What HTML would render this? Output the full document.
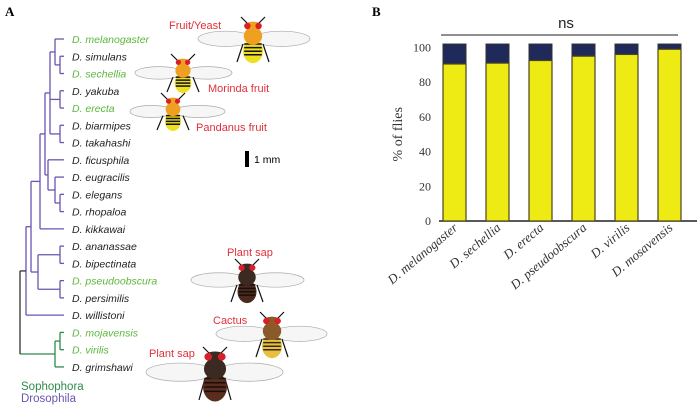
<!DOCTYPE html>
<html><head><meta charset="utf-8">
<style>
html,body{margin:0;padding:0;background:#fff;}
svg{display:block;}
.sp{font-family:"Liberation Sans",sans-serif;font-size:10.5px;font-style:italic;}
.lab{font-family:"Liberation Sans",sans-serif;font-size:11px;fill:#e0303a;}
.ser{font-family:"Liberation Serif",serif;}
</style></head>
<body>
<svg id="fig" width="697" height="415" viewBox="0 0 697 415">
<text x="5" y="16" class="ser" font-weight="bold" font-size="13">A</text>
<text x="372" y="16" class="ser" font-weight="bold" font-size="13">B</text>
<g id="tree"></g>
<g id="flies"></g>
<g>
<rect x="245" y="151" width="4" height="16" fill="#000"/>
<text x="254" y="163" font-family="Liberation Sans" font-size="10.5">1 mm</text>
</g>
<text x="21" y="390" font-family="Liberation Sans" font-size="11.5" fill="#2e8b4a">Sophophora</text>
<text x="21" y="402" font-family="Liberation Sans" font-size="11.5" fill="#6a55b0">Drosophila</text>
<g id="chart"></g>
</svg>
<script>
const NS="http://www.w3.org/2000/svg";
function mk(tag,attrs,parent){const e=document.createElementNS(NS,tag);for(const k in attrs)e.setAttribute(k,attrs[k]);parent.appendChild(e);return e;}

// ---------- Chart data ----------
const species=["D. melanogaster","D. sechellia","D. erecta","D. pseudoobscura","D. virilis","D. mosavensis"];
const yellowVals=[90.5,91,92.5,95,96,99];
const totalVals=[102,102,102,102,102,102];
const yTicks=[0,20,40,60,80,100];

const chart=document.getElementById('chart');
const y0=221, yScale=1.735;
function yPos(v){return y0-v*yScale;}
const bx0=443, bstep=43, bw=23;
function xPos(i){return bx0+i*bstep;}

mk('line',{x1:439,y1:y0,x2:697,y2:y0,stroke:'#222','stroke-width':1.5},chart);
yTicks.forEach(t=>{
  const tx=mk('text',{x:431,y:yPos(t)+4,'text-anchor':'end','font-size':12,'font-family':'Liberation Serif',fill:'#333'},chart);
  tx.textContent=t;
  
  
});
const yt=mk('text',{x:0,y:0,transform:'translate(402,'+(yPos(50))+') rotate(-90)','text-anchor':'middle','font-size':14,'font-family':'Liberation Serif',fill:'#333'},chart);
yt.textContent='% of flies';



species.forEach((s,i)=>{
  const x=xPos(i);
  const top=mk('rect',{x:x,y:yPos(totalVals[i]),width:bw,height:yPos(yellowVals[i])-yPos(totalVals[i]),fill:'#1f2a5a',stroke:'#333','stroke-width':1},chart);
  
  
  const yb=mk('rect',{x:x,y:yPos(yellowVals[i]),width:bw,height:yPos(0)-yPos(yellowVals[i]),fill:'#eeea14',stroke:'#4a4420','stroke-width':1.2},chart);
  
  
  const lb=mk('text',{x:0,y:0,transform:'translate('+(x+bw/2+4)+',229) rotate(-40)','text-anchor':'end','font-size':13,'font-style':'italic','font-family':'Liberation Serif',fill:'#333'},chart);
  lb.textContent=s;
  
  
});
const ns=mk('line',{x1:441,y1:35,x2:678,y2:35,stroke:'#222','stroke-width':1},chart);


const nst=mk('text',{x:566,y:28,'text-anchor':'middle','font-size':15,'font-family':'Liberation Sans',fill:'#222'},chart);
nst.textContent='ns';



// ---------- Tree ----------
const tree=document.getElementById('tree');
const leaves=["D. melanogaster","D. simulans","D. sechellia","D. yakuba","D. erecta","D. biarmipes","D. takahashi","D. ficusphila","D. eugracilis","D. elegans","D. rhopaloa","D. kikkawai","D. ananassae","D. bipectinata","D. pseudoobscura","D. persimilis","D. willistoni","D. mojavensis","D. virilis","D. grimshawi"];
const green=new Set(["D. melanogaster","D. sechellia","D. erecta","D. pseudoobscura","D. mojavensis","D. virilis"]);
const rowY=i=>39+i*17.26;
const leafX=64;
leaves.forEach((n,i)=>{
  const t=mk('text',{x:72,y:rowY(i)+4,class:'sp',fill:green.has(n)?'#5cb83c':'#222'},tree);
  t.textContent=n;
  
  
});
function L(i){return {leaf:i};}
function N(x,...c){return {x:x,c:c};}
const P='#6a55b0',G='#2e8b4a';
const soph=N(26,
  N(31,
    N(40,
      N(45,
        N(50, N(55, L(0), N(60,L(1),L(2))), N(60,L(3),L(4)), N(60,L(5),L(6))),
        N(48, L(7), N(55, L(8), N(60,L(9),L(10))))
      ),
      L(11)
    ),
    N(38, N(60,L(12),L(13)), N(60,L(14),L(15)))
  ),
  L(16)
);
const dros=N(55, N(60,L(17),L(18)), L(19));
function draw(node,col){
  if(node.leaf!==undefined) return rowY(node.leaf);
  const ys=node.c.map(ch=>{
    const y=draw(ch,col);
    const cx=ch.leaf!==undefined?leafX:ch.x;
    mk('line',{x1:node.x,y1:y,x2:cx,y2:y,stroke:col,'stroke-width':1.3},tree);
    return y;
  });
  mk('line',{x1:node.x,y1:Math.min(...ys),x2:node.x,y2:Math.max(...ys),stroke:col,'stroke-width':1.3},tree);
  return (Math.min(...ys)+Math.max(...ys))/2;
}
const ys=draw(soph,P), yd=draw(dros,G);
mk('line',{x1:20,y1:ys,x2:26,y2:ys,stroke:'#333','stroke-width':1.3},tree);
mk('line',{x1:20,y1:yd,x2:55,y2:yd,stroke:G,'stroke-width':1.3},tree);
mk('line',{x1:20,y1:ys,x2:20,y2:yd,stroke:'#333','stroke-width':1.3},tree);

// ---------- Flies ----------
const flies=document.getElementById('flies');
function fly(cx,top,bot,wl,wr,thorax,abd,stripe){
  const g=mk('g',{},flies);
  
  
  const h=bot-top, wy=top+h*0.42;
  mk('ellipse',{cx:(wl+cx)/2,cy:wy,rx:(cx-wl)/2,ry:h*0.19,fill:'#f6f6f6',stroke:'#aaa','stroke-width':0.7},g);
  mk('ellipse',{cx:(wr+cx)/2,cy:wy,rx:(wr-cx)/2,ry:h*0.19,fill:'#f6f6f6',stroke:'#aaa','stroke-width':0.7},g);
  mk('line',{x1:cx-10,y1:top+h*0.55,x2:cx-16,y2:bot,stroke:'#111','stroke-width':1.2},g);
  mk('line',{x1:cx+10,y1:top+h*0.55,x2:cx+16,y2:bot,stroke:'#111','stroke-width':1.2},g);
  mk('line',{x1:cx-5,y1:top+2,x2:cx-12,y2:top-5,stroke:'#111','stroke-width':1.2},g);
  mk('line',{x1:cx+5,y1:top+2,x2:cx+12,y2:top-5,stroke:'#111','stroke-width':1.2},g);
  mk('ellipse',{cx:cx,cy:bot-h*0.27,rx:h*0.25,ry:h*0.3,fill:abd},g);
  for(let k=0;k<4;k++) mk('line',{x1:cx-h*0.22,y1:bot-h*0.45+k*h*0.09,x2:cx+h*0.22,y2:bot-h*0.45+k*h*0.09,stroke:stripe,'stroke-width':1.5},g);
  mk('ellipse',{cx:cx,cy:top+h*0.35,rx:h*0.23,ry:h*0.22,fill:thorax},g);
  mk('ellipse',{cx:cx,cy:top+h*0.1,rx:h*0.22,ry:h*0.11,fill:thorax},g);
  mk('circle',{cx:cx-h*0.14,cy:top+h*0.1,r:h*0.08,fill:'#d8202a'},g);
  mk('circle',{cx:cx+h*0.14,cy:top+h*0.1,r:h*0.08,fill:'#d8202a'},g);
}
fly(253,22,62,198,310,'#f0a020','#eee020','#111');
fly(183,59,92,135,232,'#f0a020','#eee020','#111');
fly(173,98,130,130,225,'#f0a020','#eee020','#111');
fly(247,264,302,191,304,'#3a2a22','#4a2a1e','#1a0d08');
fly(272,317,357,216,327,'#8a5a2a','#e8c040','#3a2a10');
fly(215,352,400,146,283,'#3a2a22','#5a2e1e','#1a0d08');

const labels=[["Fruit/Yeast",169,29],["Morinda fruit",208,92],["Pandanus fruit",196,131],["Plant sap",227,256],["Cactus",213,324],["Plant sap",149,357]];
labels.forEach(l=>{
  const t=mk('text',{x:l[1],y:l[2],class:'lab'},flies);
  t.textContent=l[0];
  
  
});
</script>
</body></html>
